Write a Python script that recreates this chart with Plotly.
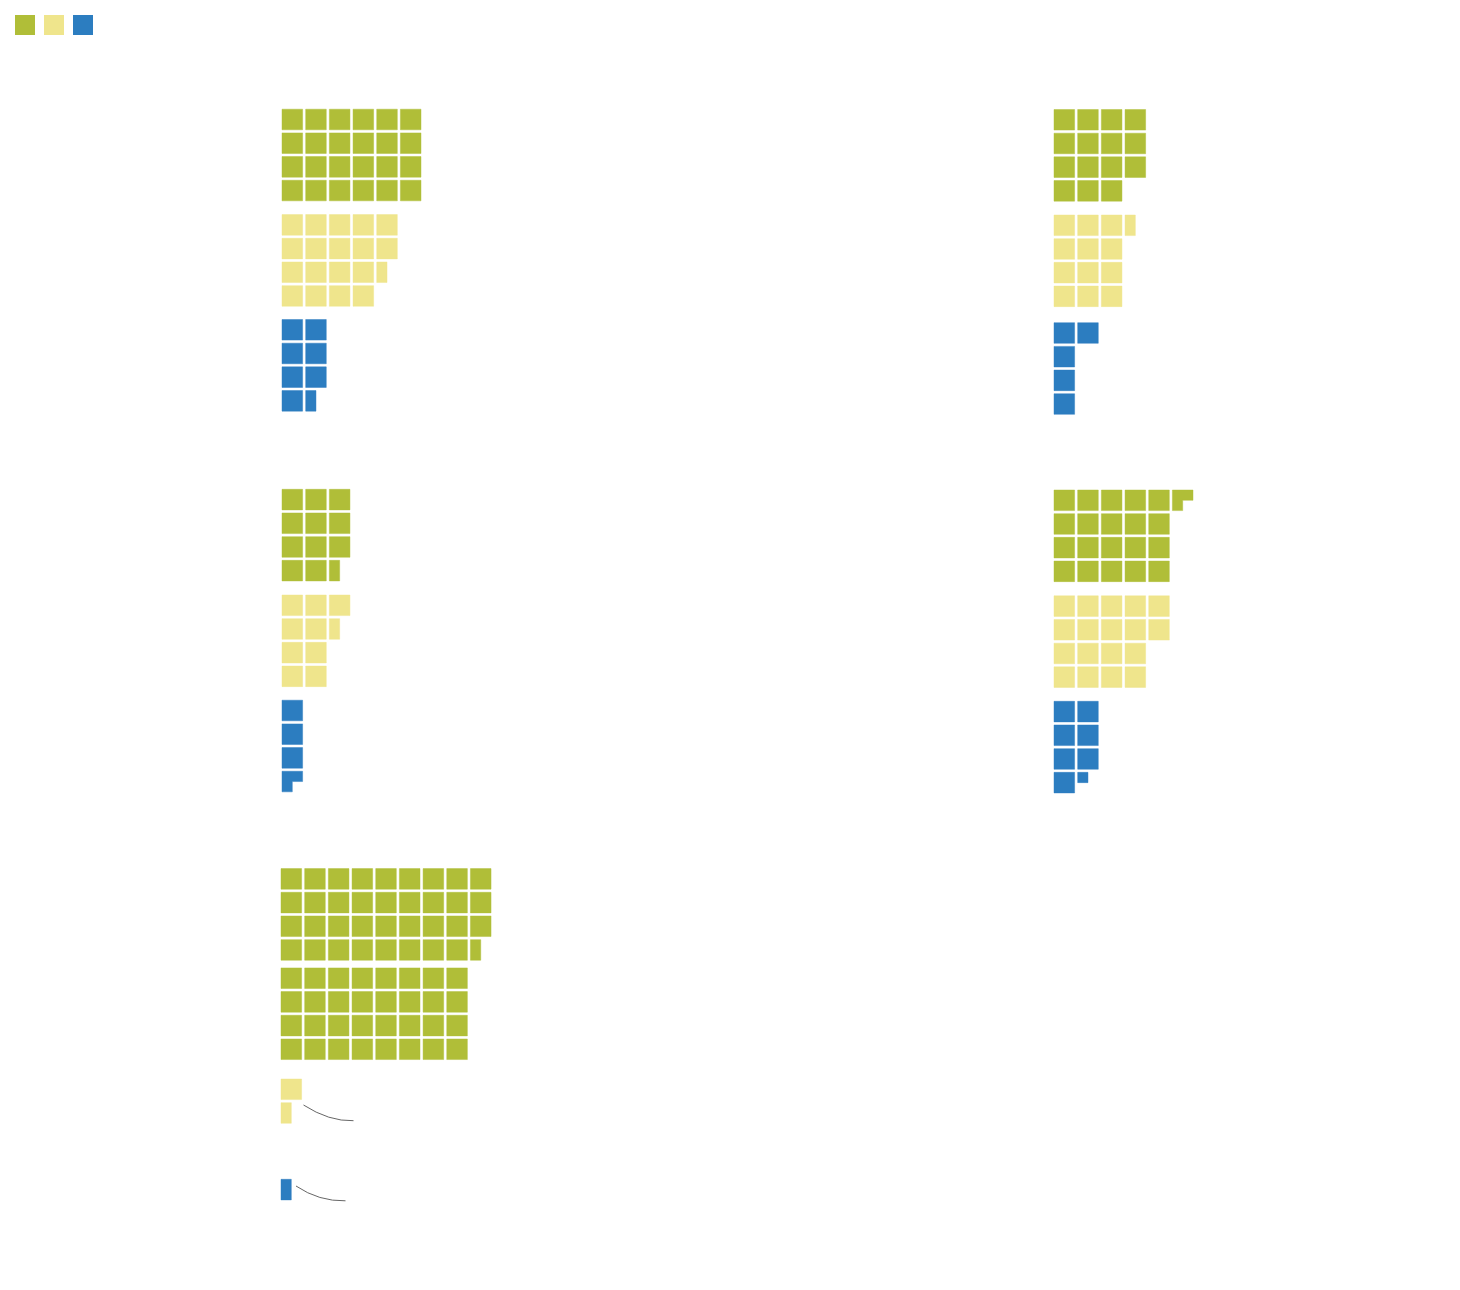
import plotly.graph_objects as go

# ---------------- data (values in squares; quarter squares allowed) ----------------
series_names = ["Series 1", "Series 2", "Series 3"]
panel_1 = [24, 18.5, 7.5]
panel_2 = [15, 12.5, 5]
panel_3 = [11.5, 9.5, 3.75]
panel_4 = [20.75, 18, 7.25]
panel_5 = [67.5, 1.5, 0.5]

# ---------------- layout / style ----------------
COLORS = ["#b0be38", "#efe58c", "#2c7dc0"]
EDGE = ["rgba(176,190,56,0.45)", "rgba(239,229,140,0.45)", "rgba(44,125,192,0.45)"]
S = 20.6          # square size (px)
P = 23.68         # pitch (px)
BAND_GAP = 4.6    # extra gap after every 4 rows
W, H = 1460, 1290

panels = [panel_1, panel_2, panel_3, panel_4, panel_5]
PANEL_X = [282, 1054, 282, 1054, 281]
BLOCK_TOPS = [
    [109.2, 214.6, 319.5],
    [109.5, 215.0, 322.7],
    [489.3, 595.0, 700.2],
    [490.0, 595.8, 701.3],
    [868.6, 1079.0, 1179.3],
]


def rows_for(value):
    return 8 if value > 40 else 4


def rect(x0, y0, x1, y1):
    return [x0, x1, x1, x0, x0, None], [y0, y0, y1, y1, y0, None]


def cell_xy(i, rows, x0, y0):
    col, row = divmod(i, rows)
    return x0 + col * P, y0 + row * P + (row // 4) * BAND_GAP


def waffle(value, x0, y0):
    rows = rows_for(value)
    n = int(value)
    frac = value - n
    xs, ys = [], []
    for i in range(n):
        x, y = cell_xy(i, rows, x0, y0)
        a, b = rect(x, y, x + S, y + S)
        xs += a
        ys += b
    if frac > 1e-9:
        x, y = cell_xy(n, rows, x0, y0)
        h = S / 2
        if frac <= 0.25 + 1e-9:
            a, b = rect(x, y, x + h, y + h)
        elif frac <= 0.5 + 1e-9:
            a, b = rect(x, y, x + h, y + S)
        else:
            a = [x, x + S, x + S, x + h, x + h, x, x, None]
            b = [y, y, y + h, y + h, y + S, y + S, y, None]
        xs += a
        ys += b
    return xs, ys


fig = go.Figure()
for k, name in enumerate(series_names):
    X, Y = [], []
    for p, vals in enumerate(panels):
        xs, ys = waffle(vals[k], PANEL_X[p], BLOCK_TOPS[p][k])
        X += xs
        Y += ys
    fig.add_trace(go.Scatter(
        x=X, y=Y, name=name, mode="lines", fill="toself",
        fillcolor=COLORS[k], line=dict(color=EDGE[k], width=1),
        hoverinfo="name", showlegend=False,
    ))

shapes = []
# legend keys
for k in range(3):
    shapes.append(dict(type="rect", xref="x", yref="y",
                       x0=15 + k * 29, x1=35 + k * 29, y0=15, y1=35,
                       fillcolor=COLORS[k], line=dict(width=0)))
# callout connectors in bottom panel
shapes.append(dict(type="path", xref="x", yref="y",
                   path="M 303.5,1105 Q 329,1121.5 353.5,1120.7",
                   line=dict(color="#666666", width=1)))
shapes.append(dict(type="path", xref="x", yref="y",
                   path="M 296,1186 Q 319,1201.5 345.5,1200.8",
                   line=dict(color="#666666", width=1)))

fig.update_layout(
    width=W, height=H,
    margin=dict(l=0, r=0, t=0, b=0),
    paper_bgcolor="white", plot_bgcolor="white",
    shapes=shapes,
    xaxis=dict(range=[0, W], visible=False, fixedrange=True),
    yaxis=dict(range=[H, 0], visible=False, fixedrange=True),
    showlegend=False,
)

fig.write_html("out.html")
